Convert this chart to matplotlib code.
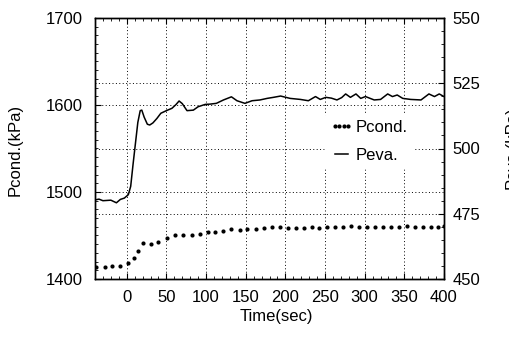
import matplotlib
matplotlib.use("Agg")
import matplotlib.pyplot as plt
from matplotlib.ticker import MultipleLocator

plt.rcParams['font.family'] = ['Liberation Sans', 'DejaVu Sans']

# Pcond (left axis, kPa)
pcond_t = [-39, -28, -18, -9, 1, 9, 14, 21, 31, 40, 51, 61, 71, 82, 92, 102, 111, 122,
           132, 143, 152, 163, 173, 183, 193, 203, 213, 223, 233, 243, 253, 263, 273,
           283, 293, 303, 313, 323, 333, 343, 353, 363, 373, 383, 393, 400]
pcond_v = [1414, 1414, 1415, 1415.5, 1418, 1424, 1432.5, 1441, 1440, 1442, 1447, 1450.5,
           1450.5, 1450.5, 1451.5, 1453.5, 1454.5, 1455.5, 1457, 1456.5, 1457, 1458, 1459,
           1459.5, 1459.5, 1458.5, 1458.5, 1458.5, 1459.5, 1459, 1459.5, 1459.5, 1460,
           1460.5, 1460, 1460, 1460, 1460, 1459.5, 1460, 1460.5, 1460, 1460, 1460, 1460, 1460.5]

# Peva (right axis, kPa)
peva_t = [-40, -35, -30, -20, -13, -8, -3, 2, 5, 8, 11, 14, 17, 19, 22, 26, 29, 33, 38, 43,
          50, 57, 62, 66, 70, 76, 84, 90, 99, 105, 113, 122, 132, 139, 149, 158, 168, 177,
          185, 194, 206, 219, 229, 238, 244, 251, 258, 265, 271, 276, 282, 289, 295, 301,
          312, 320, 329, 335, 341, 348, 358, 371, 381, 388, 394, 400]
peva_v = [480.3, 480.6, 480.0, 480.2, 479.2, 480.5, 481.0, 482.3, 485.5, 494, 502, 510,
          514.5, 514.7, 512, 509.3, 509, 509.8, 511.5, 513.5, 514.5, 515.4, 516.8, 518.2,
          517.2, 514.5, 514.7, 516, 516.9, 517, 517.3, 518.6, 519.8, 518.3, 517.3, 518.3,
          518.6, 519.2, 519.6, 520.1, 519.2, 518.8, 518.3, 519.9, 518.8, 519.6, 519.3,
          518.6, 519.5, 520.9, 519.6, 520.9, 519.2, 519.9, 518.6, 518.8, 520.9, 519.9,
          520.5, 519.2, 518.8, 518.6, 520.9, 519.9, 520.9, 519.9]

x_ticks = [0, 50, 100, 150, 200, 250, 300, 350, 400]
left_ticks = [1400, 1500, 1600, 1700]
right_ticks = [450, 475, 500, 525, 550]

W, H = 509, 338
fig = plt.figure(figsize=(W / 100, H / 100), dpi=100)
L, R, T, B = 95, 444, 18, 279
ax = fig.add_axes([L / W, 1 - B / H, (R - L) / W, (B - T) / H])
ax2 = ax.twinx()

grid_kw = dict(color='black', linewidth=0.7, linestyle=(0, (1, 2.5)))

ax.set_xlim(-40, 400)
ax.set_ylim(1400, 1700)
ax2.set_ylim(450, 550)
ax.set_xticks(x_ticks)
ax.set_yticks(left_ticks)
ax2.set_yticks(right_ticks)
ax.xaxis.set_minor_locator(MultipleLocator(10))
ax.yaxis.set_minor_locator(MultipleLocator(10))
ax2.yaxis.set_minor_locator(MultipleLocator(5))

for x in x_ticks[:-1]:
    ax.axvline(x, **grid_kw, zorder=1)
for y in left_ticks[1:-1]:
    ax.axhline(y, **grid_kw, zorder=1)
for y in right_ticks[1:-1]:
    ax2.axhline(y, **grid_kw, zorder=1)

h1, = ax.plot(pcond_t, pcond_v, linestyle='none', marker='o', ms=3, mew=0,
              color='black', label='Pcond.', zorder=3)
h2, = ax2.plot(peva_t, peva_v, color='black', linewidth=1.1, label='Peva.', zorder=3)

ax.tick_params(axis='both', which='both', direction='in', labelsize=12,
               top=True, right=False)
ax.tick_params(axis='x', which='major', length=4, pad=8)
ax.tick_params(axis='y', which='major', length=4, pad=9)
ax.tick_params(which='minor', length=2.5)
ax2.tick_params(axis='y', which='both', direction='in', labelsize=12, pad=6)
ax2.tick_params(which='major', length=4)
ax2.tick_params(which='minor', length=2.5)

for a in (ax, ax2):
    for s in a.spines.values():
        s.set_linewidth(1.0)

leg = ax2.legend(handles=[h1, h2], loc='upper left',
                 bbox_to_anchor=(325 / W, 1 - 115 / H), bbox_transform=fig.transFigure,
                 borderaxespad=0, borderpad=0.3, frameon=True, fancybox=False,
                 framealpha=1, edgecolor='white', facecolor='white', fontsize=12,
                 handlelength=1.4, handletextpad=0.15, numpoints=4, labelspacing=0.75)

fig.text(15 / W, 1 - 150 / H, 'Pcond.(kPa)', rotation=90, ha='center', va='center', fontsize=12)
fig.text(276 / W, 1 - 316 / H, 'Time(sec)', ha='center', va='center', fontsize=12)
fig.text(512 / W, 1 - 148 / H, 'Peva.(kPa)', rotation=90, ha='center', va='center', fontsize=12)

fig.savefig('out.png', dpi=100)
